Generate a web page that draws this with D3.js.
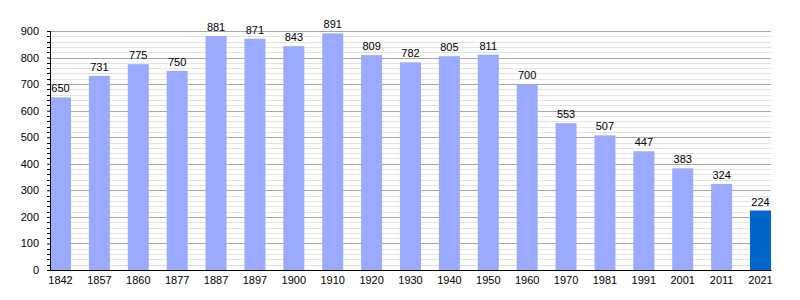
<!DOCTYPE html>
<html lang="en">
<head>
    <meta charset="UTF-8">
    <title>Population</title>
    <script src="https://d3js.org/d3.v7.min.js"></script>
    <style>
        body { margin: 0; background: #fff; }
        text { font-family: "Liberation Sans", Arial, sans-serif; font-size: 11px; fill: #000; }
    </style>
</head>
<body>
<script>
    years = ["1842", "1857", "1860", "1877", "1887", "1897", "1900", "1910", "1920", "1930",
             "1940", "1950", "1960", "1970", "1981", "1991", "2001", "2011", "2021"]
    population = [650, 731, 775, 750, 881, 871, 843, 891, 809, 782,
                  805, 811, 700, 553, 507, 447, 383, 324, 224]
    yTicks = [0, 100, 200, 300, 400, 500, 600, 700, 800, 900]

    //chart dimensions
    w = 800
    h = 300
    margin = {top: 31, right: 29, bottom: 30, left: 50}
    width = w - margin.left - margin.right
    height = h - margin.top - margin.bottom

    svg = d3.select("body")
        .append("svg")
        .attr("width", w)
        .attr("height", h)
        .append("g")
        .attr("transform", "translate(" + margin.left + "," + margin.top + ")")

    x = d3.scaleBand()
        .domain(years)
        .range([0, width])
        .paddingInner(0.46)
        .paddingOuter(0)

    y = d3.scaleLinear()
        .domain([0, 900])
        .range([height, 0])

    //minor grid every 20
    minor = d3.range(20, 901, 20).filter((v) => v % 100 != 0)
    svg.selectAll("line.minor")
        .data(minor)
        .enter()
        .append("line")
        .attr("class", "minor")
        .attr("x1", 0)
        .attr("x2", width)
        .attr("y1", (d) => Math.round(y(d)) + 0.5)
        .attr("y2", (d) => Math.round(y(d)) + 0.5)
        .attr("stroke", "#e4e4e4")

    svg.selectAll("line.major")
        .data(yTicks.slice(1))
        .enter()
        .append("line")
        .attr("class", "major")
        .attr("x1", 0)
        .attr("x2", width)
        .attr("y1", (d) => Math.round(y(d)) + 0.5)
        .attr("y2", (d) => Math.round(y(d)) + 0.5)
        .attr("stroke", "#a8a8a8")

    //bars
    svg.selectAll("rect.bar")
        .data(population)
        .enter()
        .append("rect")
        .attr("class", "bar")
        .attr("x", (d, i) => x(years[i]))
        .attr("width", x.bandwidth())
        .attr("y", (d) => y(d))
        .attr("height", (d) => height - y(d))
        .attr("fill", (d, i) => i == years.length - 1 ? "#0066cc" : "#99aaff")

    svg.selectAll("text.val")
        .data(population)
        .enter()
        .append("text")
        .attr("class", "val")
        .attr("x", (d, i) => x(years[i]) + x.bandwidth() / 2)
        .attr("y", (d) => y(d) - 5)
        .attr("text-anchor", "middle")
        .text((d) => d)

    //y axis
    yAxis = svg.append("g")
        .call(d3.axisLeft(y).tickValues(yTicks).tickSize(3).tickPadding(8))
    yAxis.select(".domain").attr("stroke", "#000")
    yAxis.selectAll("text").style("font-size", "11px")
    yAxis.selectAll("g.minor")
        .data(minor)
        .enter()
        .append("line")
        .attr("x1", -3)
        .attr("x2", 0)
        .attr("y1", (d) => Math.round(y(d)) + 0.5)
        .attr("y2", (d) => Math.round(y(d)) + 0.5)
        .attr("stroke", "#000")

    //x axis
    xAxis = svg.append("g")
        .attr("transform", "translate(0," + height + ")")
        .call(d3.axisBottom(x).tickSize(0).tickPadding(6))
    xAxis.select(".domain").attr("stroke", "#000")
    xAxis.selectAll("text").style("font-size", "11px")
</script>
</body>
</html>
